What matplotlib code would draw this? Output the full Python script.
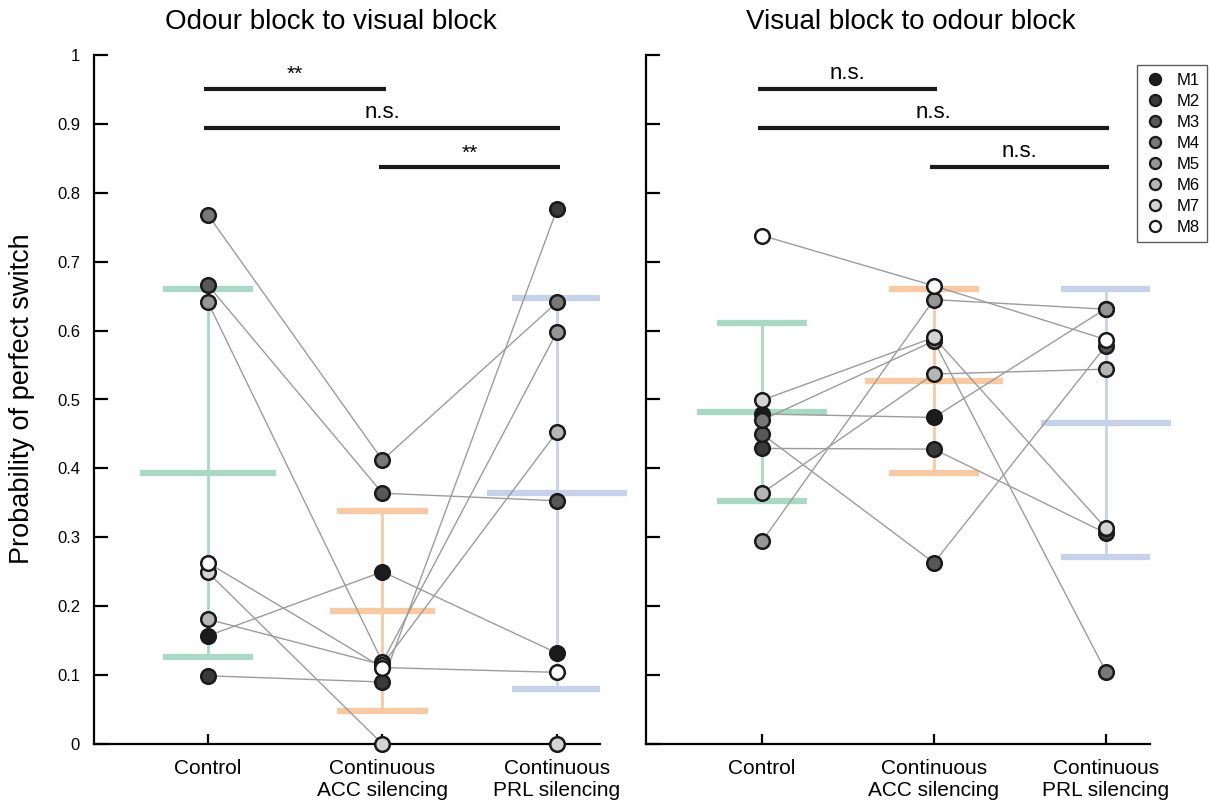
import matplotlib
matplotlib.use("Agg")
import matplotlib.pyplot as plt
from matplotlib.lines import Line2D

plt.rcParams['font.family'] = ['Liberation Sans', 'DejaVu Sans']

conditions = ["Control", "Continuous\nACC silencing", "Continuous\nPRL silencing"]
mice = ["M1", "M2", "M3", "M4", "M5", "M6", "M7", "M8"]
mouse_colours = ["#1c1c1c", "#3a3a3a", "#585858", "#787878",
                 "#969696", "#b6b6b6", "#d4d4d4", "#ffffff"]

# per mouse: control, ACC silencing, PRL silencing
odour_visual = [
    [0.157, 0.250, 0.132],
    [0.099, 0.090, 0.776],
    [0.666, 0.364, 0.353],
    [0.768, 0.412, 0.641],
    [0.641, 0.119, 0.598],
    [0.181, 0.115, 0.453],
    [0.249, 0.000, 0.000],
    [0.263, 0.111, 0.104],
]
visual_odour = [
    [0.479, 0.474, 0.632],
    [0.429, 0.428, 0.306],
    [0.450, 0.263, 0.578],
    [0.470, 0.585, 0.105],
    [0.294, 0.645, 0.631],
    [0.364, 0.537, 0.544],
    [0.499, 0.590, 0.313],
    [0.738, 0.665, 0.587],
]

# group mean and SD
odour_visual_mean = [0.393, 0.193, 0.364]
odour_visual_sd = [0.267, 0.145, 0.284]
visual_odour_mean = [0.482, 0.527, 0.466]
visual_odour_sd = [0.129, 0.133, 0.195]

# significance brackets: (from, to, label)
odour_visual_sig = [(0, 1, "**"), (0, 2, "n.s."), (1, 2, "**")]
visual_odour_sig = [(0, 1, "n.s."), (0, 2, "n.s."), (1, 2, "n.s.")]

cond_colours = ["#a9d9c5", "#f9c9a3", "#c6d1ea"]
xpos = [1, 2, 3]


def draw_panel(ax, values, means, sds, sig, mean_widths):
    # SD bars with caps and a wider mean line
    for i in range(3):
        c = cond_colours[i]
        ax.vlines(xpos[i], means[i] - sds[i], means[i] + sds[i], color=c, lw=2, zorder=1)
        for y in (means[i] - sds[i], means[i] + sds[i]):
            ax.hlines(y, xpos[i] - 0.26, xpos[i] + 0.26, color=c, lw=4.5, zorder=1)
        ax.hlines(means[i], xpos[i] - mean_widths[i], xpos[i] + mean_widths[i],
                  color=c, lw=4.5, zorder=1, clip_on=False)

    # one line per mouse across conditions
    for row in values:
        ax.plot(xpos, row, color="#9c9c9c", lw=1, zorder=2, clip_on=False)
    for row, col in zip(values, mouse_colours):
        ax.plot(xpos, row, ls="none", marker="o", ms=10.5, mfc=col, mec="#1a1a1a",
                mew=1.8, zorder=3, clip_on=False)

    # significance brackets
    for (a, b, label), h in zip(sig, [0.951, 0.894, 0.837]):
        ax.plot([xpos[a] - 0.02, xpos[b] + 0.02], [h, h], color="#1a1a1a", lw=3,
                solid_capstyle="butt", clip_on=False)
        ax.text((xpos[a] + xpos[b]) / 2, h + 0.007, label, ha="center", va="bottom",
                fontsize=16 if label == "n.s." else 15)

    ax.set_ylim(0, 1)
    ax.set_yticks([i / 10 for i in range(11)])
    ax.set_xticks(xpos)
    ax.set_xticklabels(conditions, fontsize=15, linespacing=1.15)
    ax.spines["top"].set_visible(False)
    ax.spines["right"].set_visible(False)
    ax.spines["left"].set_linewidth(1.6)
    ax.spines["bottom"].set_linewidth(1.6)
    ax.tick_params(axis="y", direction="in", length=10, width=1.6, labelsize=12, pad=10)
    ax.tick_params(axis="x", direction="in", length=7, width=1.6, pad=11)


fig = plt.figure(figsize=(12.11, 8.05), dpi=100)
ax1 = fig.add_axes([94 / 1211, 61 / 805, 506 / 1211, 689 / 805])
ax2 = fig.add_axes([646 / 1211, 61 / 805, 504 / 1211, 689 / 805])

draw_panel(ax1, odour_visual, odour_visual_mean, odour_visual_sd, odour_visual_sig,
           [0.39, 0.30, 0.40])
draw_panel(ax2, visual_odour, visual_odour_mean, visual_odour_sd, visual_odour_sig,
           [0.38, 0.40, 0.38])

ax1.set_xlim(0.347, 0.347 + 506 / 174.5)
ax2.set_xlim(0.326, 0.326 + 504 / 172)
ax1.set_yticklabels(["0", "0.1", "0.2", "0.3", "0.4", "0.5", "0.6", "0.7", "0.8", "0.9", "1"])
ax2.set_yticklabels([])

fig.text(331 / 1211, 1 - 22 / 805, "Odour block to visual block", ha="center", va="center", fontsize=20)
fig.text(911 / 1211, 1 - 22 / 805, "Visual block to odour block", ha="center", va="center", fontsize=20)
fig.text(22 / 1211, 1 - 399 / 805, "Probability of perfect switch", ha="center", va="center",
         rotation=90, fontsize=19.5)

handles = [Line2D([], [], ls="none", marker="o", ms=8, mfc=c, mec="#1a1a1a", mew=1.6)
           for c in mouse_colours]
leg = ax2.legend(handles, mice, loc="upper right", bbox_to_anchor=(1.113, 0.985),
                 fontsize=12, frameon=True, fancybox=False, handletextpad=0.6,
                 labelspacing=0.36, borderpad=0.45, handlelength=1.3, borderaxespad=0)
leg.get_frame().set_edgecolor("#333333")
leg.get_frame().set_linewidth(1)

fig.savefig("out.png", dpi=100)
